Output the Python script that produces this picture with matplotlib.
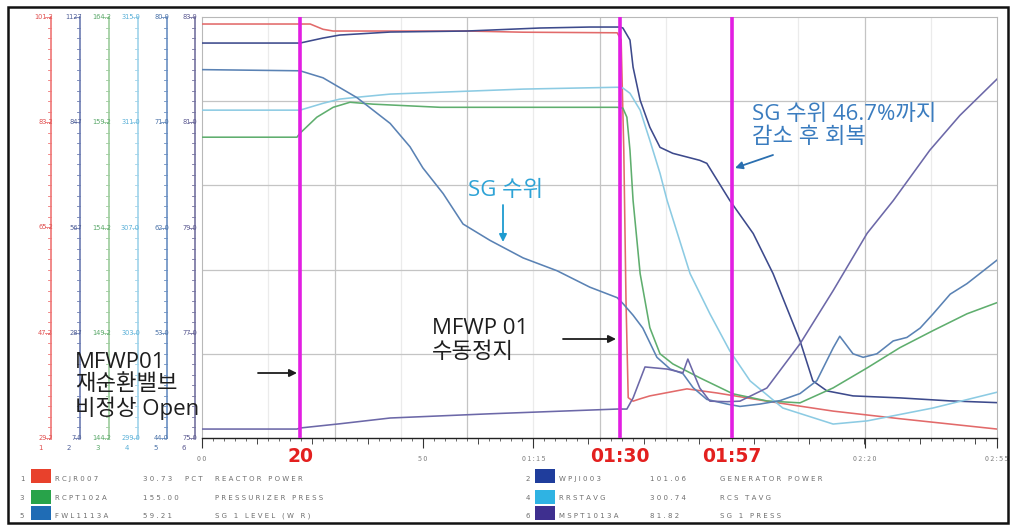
import numpy as np
import matplotlib
matplotlib.use("Agg")
import matplotlib.pyplot as plt
from matplotlib import transforms
from matplotlib.lines import Line2D
from matplotlib.patches import Rectangle, FancyArrowPatch

plt.rcParams['font.family'] = ['Noto Sans CJK KR', 'DejaVu Sans']

# ---------------- trend data (time in seconds) ----------------
t_power = [0, 21.5, 24.5, 27.4, 29.7, 60.0, 72.7, 94.0, 94.9, 95.5, 96.0, 96.5,
           97.6, 99.2, 101.4, 109.8, 116.6, 127.9, 142.9, 158.0, 180]
power = [100.0, 100.0, 100.0, 99.1, 98.8, 98.8, 98.6, 98.5, 97.3, 78.4, 52.7, 36.1,
         35.5, 35.9, 36.4, 37.6, 36.9, 35.5, 33.8, 32.5, 30.73]

t_gen = [0, 22.2, 27.4, 31.2, 42.6, 60.0, 76.5, 87.8, 94.6, 95.3, 96.9, 97.6, 99.2,
         101.4, 103.7, 106.6, 112.7, 114.3, 115.7, 119.5, 124.8, 129.3, 135.4,
         138.3, 141.5, 147.4, 158.0, 169.4, 180]
gen_power = [1057.7, 1057.7, 1071.0, 1079.0, 1087.0, 1089.7, 1097.7, 1100.3, 1100.3,
             1097.7, 1065.7, 993.7, 905.7, 833.7, 780.3, 764.3, 745.7, 737.7, 711.0,
             639.0, 551.0, 444.3, 265.7, 159.0, 132.3, 119.0, 113.7, 105.7, 101.06]

t_prz = [0, 21.5, 22.2, 26.0, 29.7, 33.5, 38.7, 53.9, 72.7, 94.0, 95.3, 96.2, 96.9,
         97.6, 99.2, 101.4, 103.7, 106.6, 112.7, 120.2, 127.9, 135.4, 142.9, 150.6,
         158.0, 165.5, 173.2, 180]
prz_press = [158.49, 158.49, 158.68, 159.44, 159.91, 160.15, 160.06, 159.91, 159.91,
             159.91, 159.87, 159.44, 157.87, 155.49, 152.01, 149.44, 148.20, 147.72,
             147.06, 146.30, 145.96, 145.87, 146.58, 147.53, 148.49, 149.30, 150.10,
             150.63]

t_tavg = [0, 22.2, 27.4, 31.2, 35.1, 42.6, 60.0, 72.7, 94.0, 95.3, 96.9, 99.2, 101.4,
          103.7, 105.3, 110.5, 115.0, 119.5, 124.1, 131.5, 142.9, 150.6, 165.5, 180]
rcs_tavg = [311.46, 311.46, 311.72, 311.88, 311.95, 312.07, 312.18, 312.26, 312.33,
            312.30, 312.10, 311.46, 310.31, 309.06, 308.03, 305.25, 303.72, 302.31,
            301.17, 300.14, 299.53, 299.65, 300.14, 300.74]

t_sgl = [0, 22.2, 27.4, 35.1, 42.6, 47.1, 50.0, 54.6, 59.1, 65.2, 72.7, 80.4, 87.8,
         94.0, 95.3, 97.6, 99.8, 103.0, 106.0, 108.9, 111.2, 114.3, 118.9, 121.8,
         126.3, 130.9, 135.4, 139.2, 142.9, 144.4, 147.4, 149.7, 152.8, 156.5, 159.6,
         162.6, 165.5, 169.4, 173.2, 180]
sg_level = [75.5, 75.4, 74.8, 73.1, 70.9, 68.9, 67.1, 64.9, 62.3, 60.9, 59.4, 58.3,
            56.9, 56.0, 55.5, 54.5, 53.4, 50.9, 49.9, 49.5, 48.3, 47.3, 46.9, 46.7,
            46.9, 47.2, 47.8, 48.9, 51.7, 52.7, 51.2, 50.9, 51.2, 52.3, 52.6, 53.4,
            54.6, 56.3, 57.2, 59.21]

t_sgp = [0, 21.5, 22.2, 31.2, 42.6, 65.2, 94.0, 96.2, 97.6, 100.3, 105.3, 108.9,
         110.0, 112.7, 115.0, 118.9, 121.8, 127.9, 135.4, 142.9, 150.6, 156.5, 164.8,
         171.6, 180]
sg_press = [75.17, 75.17, 75.19, 75.27, 75.38, 75.46, 75.55, 75.55, 75.76, 76.35,
            76.31, 76.24, 76.50, 75.95, 75.70, 75.69, 75.70, 75.95, 76.79, 77.80,
            78.89, 79.51, 80.47, 81.13, 81.82]

# pen scales (bottom / top) and their printed labels, pens 1..6
scale_lo = [29.2, 7.0, 144.2, 299.0, 44.0, 75.0]
scale_hi = [101.2, 1127.0, 164.2, 315.0, 80.0, 83.0]
scale_labels = [
    ["101.2", "83.2", "65.2", "47.2", "29.2"],
    ["1127", "847", "567", "287", "7.0"],
    ["164.2", "159.2", "154.2", "149.2", "144.2"],
    ["315.0", "311.0", "307.0", "303.0", "299.0"],
    ["80.0", "71.0", "62.0", "53.0", "44.0"],
    ["83.0", "81.0", "79.0", "77.0", "75.0"],
]

# legend table
legend_ids = ["1", "2", "3", "4", "5", "6"]
legend_codes = ["RCJR007", "WPJI003", "RCPT102A", "RRSTAVG", "FWL1113A", "MSPT1013A"]
legend_values = ["30.73", "101.06", "155.00", "300.74", "59.21", "81.82"]
legend_units = ["PCT", "", "", "", "", ""]
legend_desc = ["REACTOR POWER", "GENERATOR POWER", "PRESSURIZER PRESS", "RCS TAVG",
               "SG 1 LEVEL (W R)", "SG 1 PRESS"]

# time axis labels
tick_secs = [0, 50, 75, 150, 180]
tick_labels = ["00", "50", "01:15", "02:20", "02:55"]

# event markers
event_times = [22.2, 94.6, 120.0]
event_labels = ["20", "01:30", "01:57"]

# ---------------- styling ----------------
pen_colors = ["#e26a6a", "#3d4a8c", "#5fae6e", "#8ccbe3", "#5a82b4", "#6c68a8"]
scale_colors = ["#ef7676", "#6c7cb2", "#9ccc9c", "#9fd3ea", "#6a8fc2", "#74729f"]
label_colors = ["#e05050", "#506098", "#5aa86a", "#5ab0d8", "#4a72a8", "#5a5890"]
box_colors = ["#e8412c", "#1f3d9c", "#28a34a", "#2fb3e3", "#1f6cb5", "#3e2f8f"]
note_font = ["Open Sans", "Noto Sans CJK KR"]

W, H = 1015, 526
fig = plt.figure(figsize=(W / 100, H / 100), dpi=100)
fig.patch.set_facecolor("white")


def fx(x):
    return x / W


def fy(y):
    return 1 - y / H


L, R, T, B = 202, 997, 17, 438
ax = fig.add_axes([fx(L), fy(B), fx(R) - fx(L), fy(T) - fy(B)])
ax.set_xlim(0, 180)
ax.set_ylim(0, 1)
ax.set_yticks([])

# grid: 6 major / 12 minor vertical divisions, 5 horizontal
for i, f in enumerate(np.linspace(0, 1, 13)):
    if i in (0, 12):
        continue
    ax.axvline(180 * f, color="#c4c4c4" if i % 2 == 0 else "#ebebeb", lw=0.9, zorder=0)
for f in np.linspace(0, 1, 6)[1:-1]:
    ax.axhline(f, color="#c4c4c4", lw=0.9, zorder=0)

for s in ("top", "right", "left"):
    ax.spines[s].set_color("#b8b8b8")
    ax.spines[s].set_linewidth(0.8)
ax.spines["bottom"].set_color("#222222")
ax.spines["bottom"].set_linewidth(1.0)

ax.set_xticks(tick_secs, [" ".join(s) for s in tick_labels])
ax.set_xticks(np.arange(0, 180.01, 2.5), minor=True)
ax.tick_params(axis="x", which="major", length=7.5, width=0.8, color="#333333",
               pad=5, labelsize=5, labelcolor="#808080")
ax.tick_params(axis="x", which="minor", length=2.5, width=0.6, color="#555555")
sec = ax.secondary_xaxis("bottom")
sec.set_xticks(np.arange(0, 180.01, 12.5))
sec.tick_params(length=4.5, width=0.7, color="#444444", labelbottom=False)
sec.spines["bottom"].set_visible(False)

# one hidden y-scale per pen
series = [(t_power, power), (t_gen, gen_power), (t_prz, prz_press),
          (t_tavg, rcs_tavg), (t_sgl, sg_level), (t_sgp, sg_press)]
twins = []
for (t, v), lo, hi, c in zip(series, scale_lo, scale_hi, pen_colors):
    tax = ax.twinx()
    tax.set_ylim(lo, hi)
    tax.axis("off")
    tax.plot(t, v, color=c, lw=1.15, solid_joinstyle="round")
    twins.append(tax)

# event markers on top
top = ax.twinx()
top.set_ylim(0, 1)
top.axis("off")
for et in event_times:
    top.axvline(et, color="#e21ee2", lw=2.6)

ev_trans = transforms.blended_transform_factory(ax.transData, fig.transFigure)
for et, lab in zip(event_times, event_labels):
    ax.text(et, fy(457), lab, transform=ev_trans, ha="center", va="center",
            fontsize=13.5, fontweight="bold", color="#e3201f", family="DejaVu Sans")

# pen scale bars on the left
scale_x = [51, 80, 109, 138, 167, 195]
for i, (xl, tax) in enumerate(zip(scale_x, twins)):
    lo, hi = scale_lo[i], scale_hi[i]
    tr = transforms.blended_transform_factory(fig.transFigure, tax.transData)
    fig.add_artist(Line2D([fx(xl), fx(xl)], [lo, hi], transform=tr,
                          color=scale_colors[i], lw=1.2))
    for k in range(41):
        yv = lo + (hi - lo) * k / 40
        ln = 6 if k % 10 == 0 else 3
        fig.add_artist(Line2D([fx(xl - ln), fx(xl)], [yv, yv], transform=tr,
                              color=scale_colors[i], lw=0.6))
    for val, lab in zip(np.linspace(hi, lo, 5), scale_labels[i]):
        fig.text(fx(xl + 2), val, lab, transform=tr, ha="right", va="center",
                 fontsize=4.8, color=label_colors[i], family="DejaVu Sans")
    fig.text(fx(xl - 11), fy(448), legend_ids[i], ha="center", va="center",
             fontsize=5, color=label_colors[i], family="DejaVu Sans")

# legend table
cols = [dict(idx=22, box=31, code=55, val=143, unit=185, desc=215),
        dict(idx=528, box=535, code=559, val=650, unit=None, desc=720)]
text_y = [479, 498, 516]
box_y = [476, 497, 513]
gray = "#6e6e6e"
for i in range(6):
    c = cols[i % 2]
    r = i // 2
    fig.text(fx(c["idx"]), fy(text_y[r]), legend_ids[i], ha="center", va="center",
             fontsize=5, color=gray, family="DejaVu Sans")
    fig.add_artist(Rectangle((fx(c["box"]), fy(box_y[r] + 7)), fx(20), 14 / H,
                             transform=fig.transFigure, facecolor=box_colors[i],
                             edgecolor="none"))
    fig.text(fx(c["code"]), fy(text_y[r]), " ".join(legend_codes[i]), ha="left",
             va="center", fontsize=5, color=gray, family="DejaVu Sans")
    fig.text(fx(c["val"]), fy(text_y[r]), " ".join(legend_values[i]), ha="left",
             va="center", fontsize=5, color=gray, family="DejaVu Sans")
    if c["unit"] and legend_units[i]:
        fig.text(fx(c["unit"]), fy(text_y[r]), " ".join(legend_units[i]), ha="left",
                 va="center", fontsize=5, color=gray, family="DejaVu Sans")
    fig.text(fx(c["desc"]), fy(text_y[r]), " ".join(legend_desc[i]), ha="left",
             va="center", fontsize=5, color=gray, family="DejaVu Sans")

# annotations
black = "#1e1e1e"
for txt, y in [("MFWP01", 362), ("재순환밸브", 385), ("비정상 Open", 408)]:
    fig.text(fx(75), fy(y), txt, ha="left", va="center", fontsize=16, color=black,
             family=note_font)
for txt, y in [("MFWP 01", 329), ("수동정지", 352)]:
    fig.text(fx(432), fy(y), txt, ha="left", va="center", fontsize=16, color=black,
             family=note_font)
fig.text(fx(468), fy(191), "SG 수위", ha="left", va="center", fontsize=16,
         color="#2ea3d6", family=note_font)
for txt, y in [("SG 수위 46.7%까지", 115), ("감소 후 회복", 137)]:
    fig.text(fx(752), fy(y), txt, ha="left", va="center", fontsize=16,
             color="#3a7cbf", family=note_font)


def arrow(p0, p1, color):
    fig.add_artist(FancyArrowPatch((fx(p0[0]), fy(p0[1])), (fx(p1[0]), fy(p1[1])),
                                   transform=fig.transFigure, arrowstyle="-|>",
                                   mutation_scale=11, lw=1.3, color=color,
                                   shrinkA=0, shrinkB=0))


arrow((258, 373), (297, 373), black)
arrow((563, 339), (616, 339), black)
arrow((503, 205), (503, 242), "#1e9bd0")
arrow((773, 155), (735, 168), "#2a6fb0")

# outer frame
fig.add_artist(Rectangle((fx(8), fy(523)), fx(1000), 516 / H, transform=fig.transFigure,
                         fill=False, edgecolor="#111111", lw=1.8))

fig.savefig("out.png", dpi=100, facecolor="white")
